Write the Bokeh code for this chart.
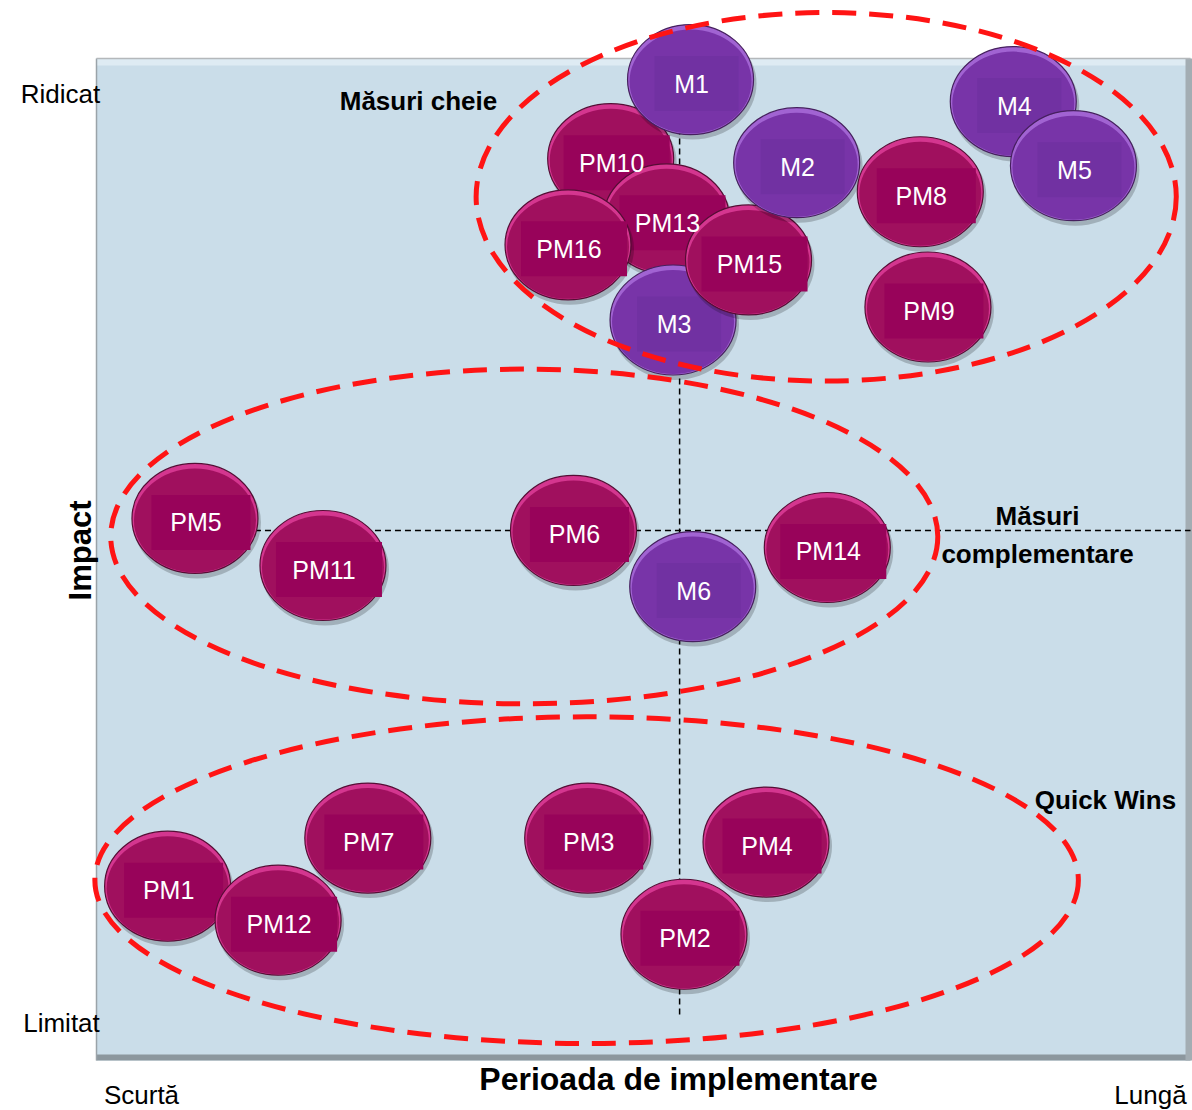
from bokeh.plotting import figure
from bokeh.models import Range1d, ColumnDataSource
from bokeh.core.properties import value
from bokeh.embed import file_html
from bokeh.resources import INLINE
import math

# ---------------- data ----------------
# measures (drawing order), implementation period (0 = short .. 100 = long), impact (0 = limited .. 100 = high)
labels = ["M4", "M5", "PM10", "M1", "PM13", "PM16", "M3", "PM15", "M2", "PM8", "PM9",
          "PM5", "PM11", "PM6", "M6", "PM14",
          "PM7", "PM3", "PM4", "PM1", "PM12", "PM2"]
period = [83.8, 89.3, 47.0, 54.3, 52.1, 43.1, 52.7, 59.6, 64.0, 75.3, 76.0,
          9.0, 20.7, 43.6, 54.5, 66.8,
          24.8, 44.9, 61.2, 6.5, 16.6, 53.7]
impact = [95.7, 89.3, 90.0, 97.9, 84.0, 81.4, 73.9, 79.9, 89.6, 86.7, 75.2,
          54.1, 49.4, 52.9, 47.3, 51.2,
          22.2, 22.2, 21.8, 17.4, 14.0, 12.6]

# groups of measures (centre and extent in chart units)
group_names = ["Măsuri cheie", "Măsuri complementare", "Quick Wins"]
group_x = [66.7, 39.1, 44.8]
group_y = [86.2, 52.3, 18.0]
group_w = [64.0, 75.6, 89.9]
group_h = [36.8, 33.4, 32.6]

# dividing lines
period_split = 53.3
impact_split = 52.9

x_tick_labels = ["Scurtă", "Lungă"]
y_tick_labels = ["Limitat", "Ridicat"]
x_title = "Perioada de implementare"
y_title = "Impact"

# ---------------- layout helpers ----------------
W, H = 1192, 1110
SX = (1190 - 96) / 100.0   # px per unit (x)
SY = (1060 - 58) / 100.0   # px per unit (y)
X0 = -96 / SX
X1 = X0 + W / SX
YT = 100 + 58 / SY
YB = YT - H / SY


def dx(px):
    return px / SX


def dy(px):
    return px / SY


def fx(sx):
    return (sx - 96) / SX


def fy(sy):
    return (1060 - sy) / SY


FONT = "'Liberation Sans', Arial, sans-serif"

p = figure(width=W, height=H, x_range=Range1d(X0, X1), y_range=Range1d(YB, YT),
           x_axis_type=None, y_axis_type=None, toolbar_location=None,
           output_backend="svg", min_border=0)
p.min_border_left = p.min_border_right = p.min_border_top = p.min_border_bottom = 0
p.outline_line_color = None
p.background_fill_color = "white"
p.border_fill_color = "white"

# ---------------- plot panel ----------------
p.quad(left=[0], right=[100], bottom=[0], top=[100], fill_color="#cadde9", line_color=None)
p.quad(left=[0], right=[100], bottom=[100 - dy(7)], top=[100], fill_color="#deebf3", line_color=None)
p.quad(left=[0], right=[100], bottom=[0], top=[dy(6)], fill_color="#8c979e", line_color=None)
p.quad(left=[100 - dx(5)], right=[100 + dx(2)], bottom=[0], top=[100], fill_color="#a3adb3", line_color=None)
p.line(x=[0, 0], y=[0, 100], line_color="#9aa3a9", line_width=1.5)
p.line(x=[0, 100], y=[100, 100], line_color="#b4b8bb", line_width=1.5)

# dividing lines
p.line(x=[period_split, period_split], y=[100, fy(1015)], line_color="black",
       line_width=1.5, line_dash="6 4")
p.line(x=[period[labels.index("PM5")], 100], y=[impact_split, impact_split], line_color="black",
       line_width=1.5, line_dash="6 4")

# ---------------- bubbles ----------------
BW, BH = 126, 110
rect_w = {2: 84, 3: 99, 4: 106}
for lab, xv, yv in zip(labels, period, impact):
    is_m = not lab.startswith("PM")
    hi = "#a163d2" if is_m else "#d4368f"
    base = "#7834a8" if is_m else "#a0105e"
    box = "#7131a2" if is_m else "#98035a"
    edge = "#46205f" if is_m else "#560d35"
    # shadow
    p.ellipse(x=[xv + dx(2)], y=[yv - dy(4)], width=dx(BW + 2), height=dy(BH + 2),
              fill_color="black", fill_alpha=0.2, line_color=None)
    # rim / highlight
    p.ellipse(x=[xv], y=[yv], width=dx(BW), height=dy(BH),
              fill_color=hi, line_color=edge, line_width=1.2)
    # body
    p.ellipse(x=[xv], y=[yv - dy(2)], width=dx(BW - 4), height=dy(BH - 6),
              fill_color=base, line_color=None)
    # label box
    p.rect(x=[xv + dx(6)], y=[yv - dy(4)], width=dx(rect_w[len(lab)]), height=dy(55),
           fill_color=box, line_color=None)

# ---------------- group outlines ----------------
p.ellipse(x=group_x, y=group_y, width=group_w, height=group_h, fill_color=None,
          line_color="#ff1414", line_width=5, line_dash="24 13")

# bubble labels
lab_src = ColumnDataSource(dict(
    x=[v + dx(1) for v in period],
    y=[v - dy(4) for v in impact],
    t=labels))
p.text(x="x", y="y", text="t", source=lab_src,
       text_color="white", text_font=value(FONT), text_font_size="25px",
       text_align="center", text_baseline="middle")


# ---------------- texts ----------------
def txt(s, sx, sy, size="26px", style="normal", align="center", angle=0.0):
    p.text(x=[fx(sx)], y=[fy(sy)], text=[s], text_font=value(FONT), text_font_size=size,
           text_font_style=style, text_align=align, text_baseline="middle",
           text_color="black", angle=angle)


txt(group_names[0], 418, 100, style="bold")
txt("Măsuri", 1037, 515, style="bold")
txt("complementare", 1037, 553, style="bold")
txt(group_names[2], 1105, 799, style="bold")

txt(y_tick_labels[1], 60, 93)
txt(y_tick_labels[0], 61, 1022)
txt(x_tick_labels[0], 141, 1094)
txt(x_tick_labels[1], 1150, 1094)

txt(x_title, 678, 1078, size="32px", style="bold")
txt(y_title, 80, 550, size="31px", style="bold", angle=math.pi / 2)

open("out.html", "w").write(file_html(p, INLINE))
